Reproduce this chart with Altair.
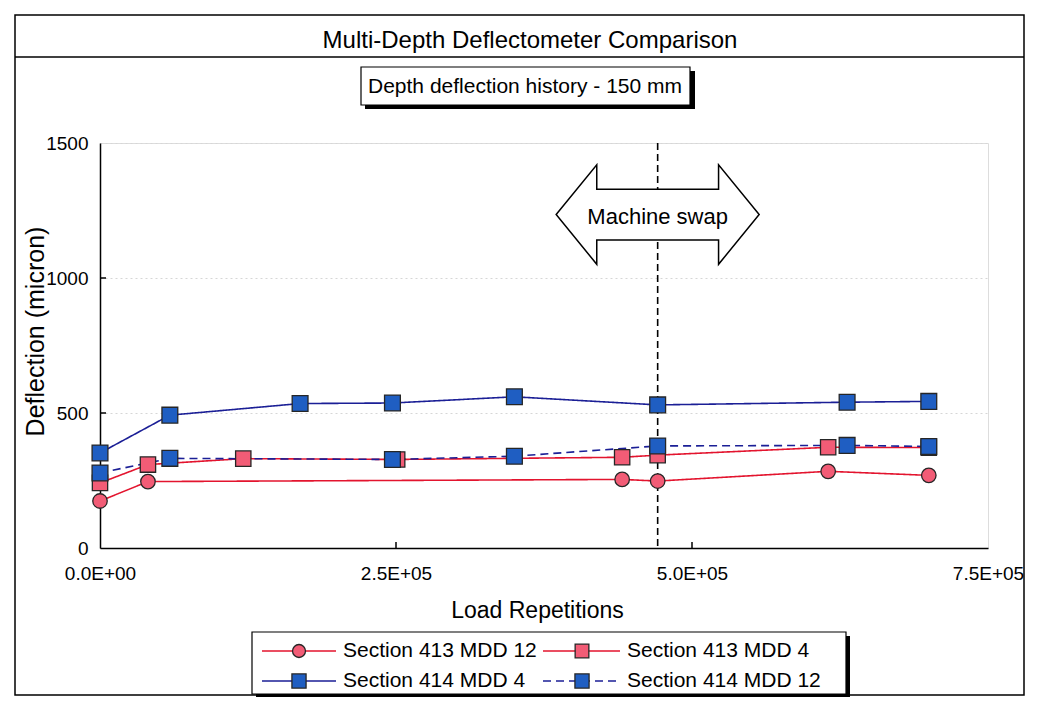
import altair as alt
import pandas as pd

# ---------------- data ----------------
SERIES = ["Section 413 MDD 12", "Section 413 MDD 4", "Section 414 MDD 12", "Section 414 MDD 4"]

REPS_413_MDD12 = [0, 40500, 441000, 471000, 615000, 700000]
DEFL_413_MDD12 = [174, 246, 254, 248, 284, 269]

REPS_413_MDD4 = [0, 40500, 121000, 251000, 441000, 471000, 615000, 700000]
DEFL_413_MDD4 = [241, 309, 331, 328, 336, 344, 373, 372]

REPS_414_MDD12 = [0, 59000, 247000, 350000, 471000, 631000, 700000]
DEFL_414_MDD12 = [278, 332, 328, 340, 378, 380, 376]

REPS_414_MDD4 = [0, 59000, 169000, 247000, 350000, 471000, 631000, 700000]
DEFL_414_MDD4 = [352, 492, 535, 537, 560, 530, 540, 543]

X_TICKS = [0, 250000, 500000, 750000]
Y_TICKS = [0, 500, 1000, 1500]
X_INNER_TICKS = [250000, 500000]
Y_INNER_TICKS = [500, 1000]
SWAP_X = [471000]
ARROW_Y = [1235]

TITLE = "Multi-Depth Deflectometer Comparison"
SUBTITLE = "Depth deflection history - 150 mm"
X_TITLE = "Load Repetitions"
Y_TITLE = "Deflection (micron)"
ARROW_LABEL = "Machine swap"

# legend layout: (series, column, row)
LEGEND_ORDER = [("Section 413 MDD 12", 0, 0), ("Section 413 MDD 4", 1, 0),
                ("Section 414 MDD 4", 0, 1), ("Section 414 MDD 12", 1, 1)]

rows = []
for name, xs, ys in zip(SERIES,
                        [REPS_413_MDD12, REPS_413_MDD4, REPS_414_MDD12, REPS_414_MDD4],
                        [DEFL_413_MDD12, DEFL_413_MDD4, DEFL_414_MDD12, DEFL_414_MDD4]):
    for xv, yv in zip(xs, ys):
        rows.append({"series": name, "reps": xv, "defl": yv})
df = pd.DataFrame(rows)

# ---------------- styles ----------------
FONT = "Liberation Sans"
W, H = 888, 405
RED = "#e3142e"
RED_FILL = "#f25c76"
BLUE = "#1b1f96"
BLUE_FILL = "#1f5ec2"
MARK_STROKE = "#262626"

STYLE = {
    "Section 413 MDD 12": dict(color=RED, fill=RED_FILL, shape="circle", size=210, dash=[1, 0]),
    "Section 413 MDD 4": dict(color=RED, fill=RED_FILL, shape="square", size=235, dash=[1, 0]),
    "Section 414 MDD 12": dict(color=BLUE, fill=BLUE_FILL, shape="square", size=250, dash=[8, 5]),
    "Section 414 MDD 4": dict(color=BLUE, fill=BLUE_FILL, shape="square", size=250, dash=[1, 0]),
}

ARROW_PATH = ("M-1,0 L-0.6,-0.49 L-0.6,-0.25 L0.6,-0.25 L0.6,-0.49 L1,0 "
              "L0.6,0.49 L0.6,0.25 L-0.6,0.25 L-0.6,0.49 Z")

x_scale = alt.Scale(domain=[0, 750000], nice=False, zero=False)
y_scale = alt.Scale(domain=[0, 1500], nice=False)

x_axis = alt.Axis(
    values=X_TICKS,
    labelExpr="datum.value == 0 ? '0.0E+00' : format(datum.value / 100000, '.1f') + 'E+05'",
    title=X_TITLE, ticks=False, grid=False,
    domainColor="black", domainWidth=1.5,
    labelFont=FONT, labelFontSize=19, labelColor="black", labelPadding=16,
    labelFlush=False, labelOverlap=False,
    titleFont=FONT, titleFontSize=23, titleFontWeight="normal", titleColor="black",
    titleX=437, titleY=69, titleBaseline="alphabetic", titleAlign="center",
)
y_axis = alt.Axis(
    values=Y_TICKS, format="d", title=Y_TITLE, ticks=False,
    grid=True, gridColor="#d6d6d6", gridDash=[2, 3], gridWidth=1,
    domainColor="black", domainWidth=1.5,
    labelFont=FONT, labelFontSize=19, labelColor="black", labelPadding=12,
    labelFlush=False, labelOverlap=False,
    titleFont=FONT, titleFontSize=25, titleFontWeight="normal", titleColor="black",
    titleAngle=270, titleX=-57, titleY=188, titleBaseline="alphabetic", titleAlign="center",
)


def xenc(field):
    return alt.X(field, type="quantitative", scale=x_scale, axis=x_axis)


def yenc(field):
    return alt.Y(field, type="quantitative", scale=y_scale, axis=y_axis)


one = pd.DataFrame({"k": [0]})
layers = []

# outer frame + title band
layers.append(alt.Chart(one).mark_rect(filled=False, stroke="black", strokeWidth=1.5).encode(
    x=alt.value(-85), x2=alt.value(924), y=alt.value(-128), y2=alt.value(552)))
layers.append(alt.Chart(one).mark_rule(color="black", strokeWidth=1.5).encode(
    x=alt.value(-85), x2=alt.value(924), y=alt.value(-86)))
layers.append(alt.Chart(one).mark_text(font=FONT, fontSize=24, color="black",
                                       align="center", baseline="middle").encode(
    x=alt.value(430), y=alt.value(-102), text=alt.value(TITLE)))

# subtitle box with shadow
layers.append(alt.Chart(one).mark_rect(fill="black").encode(
    x=alt.value(265), x2=alt.value(595), y=alt.value(-72), y2=alt.value(-34)))
layers.append(alt.Chart(one).mark_rect(fill="white", stroke="black", strokeWidth=1.2).encode(
    x=alt.value(261), x2=alt.value(590), y=alt.value(-76), y2=alt.value(-38)))
layers.append(alt.Chart(one).mark_text(font=FONT, fontSize=21, color="black",
                                       align="center", baseline="middle").encode(
    x=alt.value(425), y=alt.value(-56), text=alt.value(SUBTITLE)))

# machine swap dashed line
swap_df = pd.DataFrame({"sx": SWAP_X})
layers.append(alt.Chart(swap_df).mark_rule(color="black", strokeWidth=1.6, strokeDash=[7, 4]).encode(
    x=xenc("sx:Q")))

# inner tick marks
layers.append(alt.Chart(pd.DataFrame({"tx": X_INNER_TICKS})).mark_rule(color="black", strokeWidth=1.5).encode(
    x=xenc("tx:Q"), y=alt.value(H), y2=alt.value(H - 6)))
layers.append(alt.Chart(pd.DataFrame({"ty": Y_INNER_TICKS})).mark_rule(color="black", strokeWidth=1.5).encode(
    y=yenc("ty:Q"), x=alt.value(0), x2=alt.value(6)))

# series
for name in SERIES:
    st = STYLE[name]
    base = alt.Chart(df).transform_filter(alt.datum.series == name)
    layers.append(base.mark_line(color=st["color"], strokeWidth=1.6, strokeDash=st["dash"]).encode(
        x=xenc("reps:Q"), y=yenc("defl:Q"), order="reps:Q"))
for name in SERIES:
    st = STYLE[name]
    base = alt.Chart(df).transform_filter(alt.datum.series == name)
    layers.append(base.mark_point(shape=st["shape"], size=st["size"], filled=True, fill=st["fill"],
                                  stroke=MARK_STROKE, strokeWidth=1.3, opacity=1).encode(
        x=xenc("reps:Q"), y=yenc("defl:Q")))

# machine swap arrow
arrow_df = pd.DataFrame({"ax": SWAP_X, "ay": ARROW_Y, "label": [ARROW_LABEL]})
layers.append(alt.Chart(arrow_df).mark_point(shape=ARROW_PATH, size=41209, filled=True, fill="white",
                                             stroke="black", strokeWidth=1.5, opacity=1).encode(
    x=xenc("ax:Q"), y=yenc("ay:Q")))
layers.append(alt.Chart(arrow_df).mark_text(font=FONT, fontSize=22, color="black",
                                            align="center", baseline="middle", dy=2).encode(
    x=xenc("ax:Q"), y=yenc("ay:Q"), text="label:N"))

# legend box
layers.append(alt.Chart(one).mark_rect(fill="black").encode(
    x=alt.value(156), x2=alt.value(750), y=alt.value(493), y2=alt.value(554)))
layers.append(alt.Chart(one).mark_rect(fill="white", stroke="black", strokeWidth=1.2).encode(
    x=alt.value(152), x2=alt.value(746), y=alt.value(489), y2=alt.value(551)))

COL_X = [(162, 236, 199, 243), (443, 520, 482, 527)]
ROW_Y = [508, 538]
for name, c, r in LEGEND_ORDER:
    st = STYLE[name]
    x1, x2, xm, xt = COL_X[c]
    yy = ROW_Y[r]
    layers.append(alt.Chart(one).mark_rule(color=st["color"], strokeWidth=1.6, strokeDash=st["dash"]).encode(
        x=alt.value(x1), x2=alt.value(x2), y=alt.value(yy)))
    layers.append(alt.Chart(one).mark_point(shape=st["shape"], size=st["size"] * 0.8, filled=True,
                                            fill=st["fill"], stroke=MARK_STROKE, strokeWidth=1.3,
                                            opacity=1).encode(
        x=alt.value(xm), y=alt.value(yy)))
    layers.append(alt.Chart(one).mark_text(font=FONT, fontSize=21, color="black",
                                           align="left", baseline="middle").encode(
        x=alt.value(xt), y=alt.value(yy), text=alt.value(name)))

chart = alt.layer(*layers).properties(
    width=W, height=H,
    autosize=alt.AutoSizeParams(type="none"),
    padding={"left": 92, "top": 135, "right": 38, "bottom": 149},
    background="white",
).configure_view(stroke="black", strokeWidth=1.5).configure(font=FONT)

chart.save("out.html", embed_options={"renderer": "svg", "actions": False})
